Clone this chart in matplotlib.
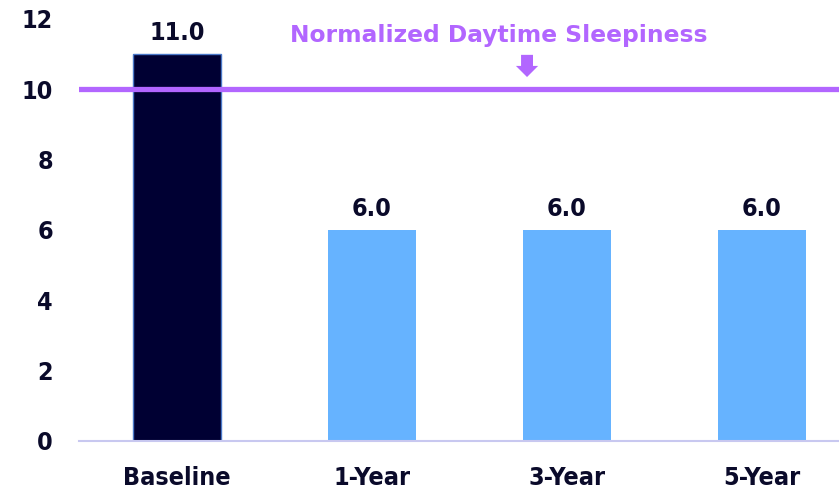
import matplotlib
matplotlib.use("Agg")
import matplotlib.pyplot as plt

categories = ["Baseline", "1-Year", "3-Year", "5-Year"]
values = [11.0, 6.0, 6.0, 6.0]
bar_colors = ["#000033", "#66B3FF", "#66B3FF", "#66B3FF"]
ref_value = 10
ref_label = "Normalized Daytime Sleepiness"
yticks = [0, 2, 4, 6, 8, 10, 12]

plt.rcParams['font.family'] = ['DejaVu Sans']
fig = plt.figure(figsize=(8.39, 4.91), dpi=100)
L = 79
ax = fig.add_axes([L/839, 1-441/491, 1-L/839, (441-18.6)/491])

label_font = dict(fontsize=18, fontweight="bold", fontstretch="condensed")
dark = "#0a0a2a"

x = list(range(len(categories)))
ax.bar(x, values, width=0.45, color=bar_colors,
       edgecolor=["#4a78c8", "none", "none", "none"], linewidth=1.0, zorder=2)
for xi, v in zip(x, values):
    ax.text(xi, v + 0.38, f"{v:.1f}", ha="center", va="baseline",
            color=dark, **label_font)

ax.set_xlim(-(177 - L) / 195, 3 + (839 - 762) / 195)
ax.set_ylim(0, 12)
ax.set_yticks(yticks)
ax.set_xticks(x)
ax.set_xticklabels(categories)
ax.tick_params(axis="both", length=0, colors=dark)
for lab in ax.get_xticklabels() + ax.get_yticklabels():
    lab.set_fontsize(18)
    lab.set_fontweight("bold")
    lab.set_fontstretch("condensed")
ax.tick_params(axis="x", pad=18)
ax.tick_params(axis="y", pad=18.7)

for s in ["top", "right", "left"]:
    ax.spines[s].set_visible(False)
ax.spines["bottom"].set_color("#C8C8F0")
ax.spines["bottom"].set_linewidth(1.5)

ax.axhline(ref_value, xmin=0, xmax=1, color="#B266FF", linewidth=3.8, zorder=3)
ax.text(1.651, 11.53, ref_label, ha="center", va="center", fontsize=16.8,
        fontweight="bold", color="#B266FF")
ax.annotate("", xy=(1.795, 10.34), xytext=(1.795, 10.97),
            arrowprops=dict(arrowstyle="simple,head_width=0.8,head_length=0.4,tail_width=0.43",
                            mutation_scale=20, color="#B266FF", lw=0,
                            shrinkA=0, shrinkB=0))

fig.savefig("out.png", dpi=100)
